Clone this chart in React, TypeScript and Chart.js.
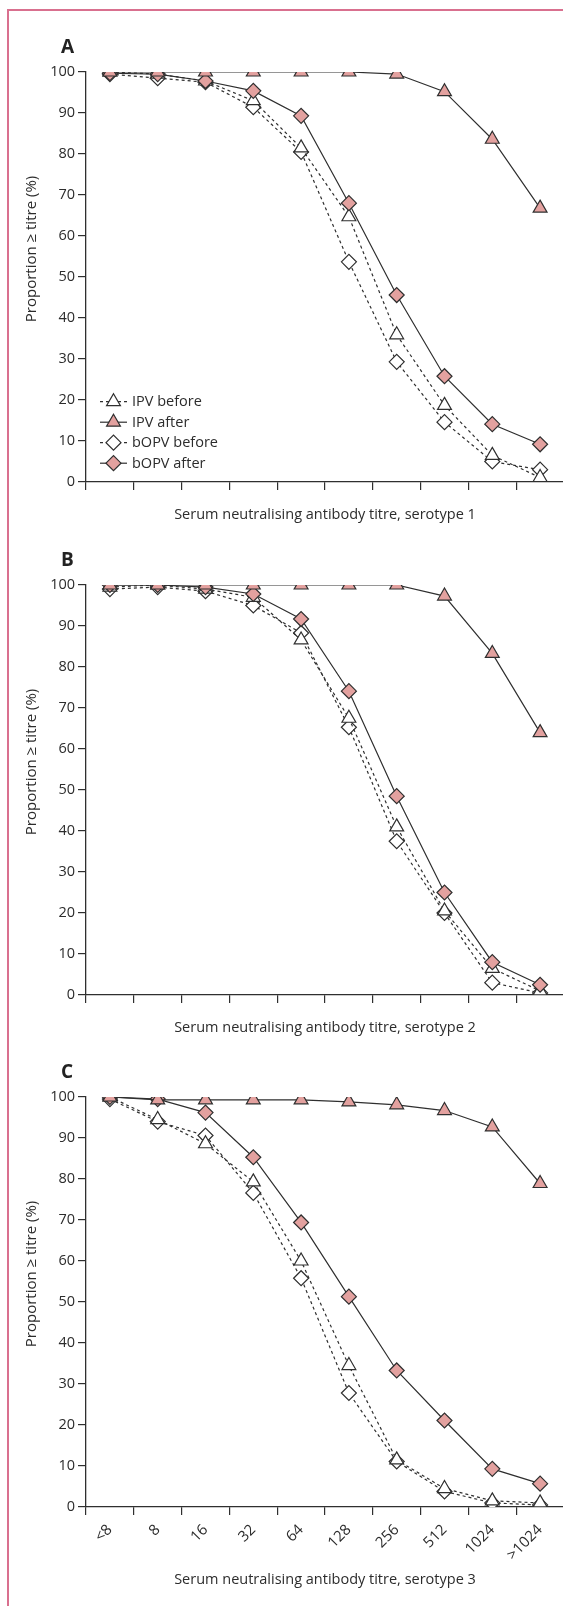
import React, { useEffect, useRef } from 'react';
import { Chart, registerables } from 'chart.js';

Chart.register(...registerables);

// ---------- data ----------
const categories = ['<8', '8', '16', '32', '64', '128', '256', '512', '1024', '>1024'];
const seriesNames = ['IPV before', 'IPV after', 'bOPV before', 'bOPV after'];

// Panel A – serotype 1
const ipvBeforeA = [100, 99.5, 97.8, 93, 81.5, 64.7, 35.9, 18.7, 6.5, 1.1];
const ipvAfterA = [100, 100, 100, 100, 100, 100, 99.5, 95.2, 83.6, 66.8];
const bopvBeforeA = [99.5, 98.5, 97.5, 91.4, 80.5, 53.7, 29.3, 14.6, 5, 3];
const bopvAfterA = [99.7, 99.5, 97.8, 95.4, 89.3, 68, 45.6, 25.8, 14.1, 9.2];

// Panel B – serotype 2
const ipvBeforeB = [99.5, 100, 99, 97, 86.6, 67.5, 41, 20.5, 6.5, 1];
const ipvAfterB = [100, 100, 100, 100, 100, 100, 100, 97.3, 83.3, 64];
const bopvBeforeB = [99, 99.5, 98.5, 95, 88.3, 65.3, 37.5, 20, 3, 0.5];
const bopvAfterB = [100, 100, 99.5, 97.8, 91.7, 74.1, 48.5, 25, 8, 2.5];

// Panel C – serotype 3
const ipvBeforeC = [100, 94.5, 88.6, 79.3, 60, 34.5, 11.5, 4.5, 1.5, 1];
const ipvAfterC = [100, 99.3, 99.3, 99.3, 99.3, 98.8, 98.1, 96.7, 92.7, 78.9];
const bopvBeforeC = [99.5, 94, 90.6, 76.6, 55.8, 27.8, 11.1, 3.8, 1, 0.5];
const bopvAfterC = [100, 99.5, 96.2, 85.3, 69.4, 51.3, 33.3, 21.1, 9.3, 5.7];

const yMin = 0;
const yMax = 100;
const yStep = 10;

const panelLetters = ['A', 'B', 'C'];
const xTitles = [
  'Serum neutralising antibody titre, serotype 1',
  'Serum neutralising antibody titre, serotype 2',
  'Serum neutralising antibody titre, serotype 3',
];
const yTitle = 'Proportion \u2265 titre (%)';

// ---------- styles ----------
const FONT = '"Open Sans", "Noto Sans", "DejaVu Sans", sans-serif';
const INK = '#2f2f2f';
const TEXT = '#2c2c2c';
const PINK = '#e3a19f';
const BORDER_PINK = '#d9708f';

const CANVAS_W = 600;
const PLOT_TOP = 72;
const PLOT_BOTTOM = 482;
const PLOT_LEFT = 86;
const PLOT_RIGHT = 564;

type PanelSpec = {
  idx: number;
  top: number;
  height: number;
  series: number[][];
  showTickLabels: boolean;
  legend: boolean;
  titlePadBottom: number;
};

const panels: PanelSpec[] = [
  { idx: 0, top: 0, height: 530, series: [ipvBeforeA, ipvAfterA, bopvBeforeA, bopvAfterA], showTickLabels: false, legend: true, titlePadBottom: 6 },
  { idx: 1, top: 513, height: 530, series: [ipvBeforeB, ipvAfterB, bopvBeforeB, bopvAfterB], showTickLabels: false, legend: false, titlePadBottom: 6 },
  { idx: 2, top: 1025, height: 581, series: [ipvBeforeC, ipvAfterC, bopvBeforeC, bopvAfterC], showTickLabels: true, legend: false, titlePadBottom: 17 },
];

const seriesStyles = [
  { dash: [3, 3], point: 'triangle', fill: '#ffffff', radius: 8, order: 3 },
  { dash: [], point: 'triangle', fill: PINK, radius: 8, order: 1 },
  { dash: [3, 3], point: 'rectRot', fill: '#ffffff', radius: 7.5, order: 4 },
  { dash: [], point: 'rectRot', fill: PINK, radius: 7.5, order: 2 },
];

function drawMarker(ctx: CanvasRenderingContext2D, style: string, x: number, y: number, r: number, fill: string) {
  ctx.beginPath();
  if (style === 'triangle') {
    let rad = 0;
    ctx.moveTo(x + Math.sin(rad) * r, y - Math.cos(rad) * r);
    rad += (2 * Math.PI) / 3;
    ctx.lineTo(x + Math.sin(rad) * r, y - Math.cos(rad) * r);
    rad += (2 * Math.PI) / 3;
    ctx.lineTo(x + Math.sin(rad) * r, y - Math.cos(rad) * r);
  } else {
    ctx.moveTo(x - r, y);
    ctx.lineTo(x, y - r);
    ctx.lineTo(x + r, y);
    ctx.lineTo(x, y + r);
  }
  ctx.closePath();
  ctx.fillStyle = fill;
  ctx.fill();
  ctx.lineWidth = 1.2;
  ctx.strokeStyle = INK;
  ctx.stroke();
}

const decorPlugin = {
  id: 'decor',
  afterDraw(chart: any, _args: any, opts: any) {
    const { ctx, chartArea } = chart;
    ctx.save();
    // panel letter
    ctx.fillStyle = '#222';
    ctx.font = `bold 19px ${FONT}`;
    ctx.textAlign = 'left';
    ctx.textBaseline = 'alphabetic';
    ctx.fillText(opts.letter, 61, 52.5);
    // y title
    ctx.translate(opts.yTitleX, (chartArea.top + chartArea.bottom) / 2 + opts.yTitleDy);
    ctx.rotate(-Math.PI / 2);
    ctx.textAlign = 'center';
    ctx.textBaseline = 'middle';
    ctx.fillStyle = TEXT;
    ctx.font = `15px ${FONT}`;
    ctx.fillText(opts.yTitle, 0, 0);
    ctx.restore();
  },
};

const insetLegendPlugin = {
  id: 'insetLegend',
  afterDatasetsDraw(chart: any, _args: any, opts: any) {
    if (!opts || !opts.display) return;
    const ctx = chart.ctx;
    chart.data.datasets.forEach((ds: any, i: number) => {
      const y = opts.y0 + i * opts.dy;
      ctx.save();
      ctx.strokeStyle = INK;
      ctx.lineWidth = ds.borderWidth;
      ctx.setLineDash(ds.borderDash || []);
      ctx.beginPath();
      ctx.moveTo(opts.x0, y);
      ctx.lineTo(opts.x1, y);
      ctx.stroke();
      ctx.setLineDash([]);
      drawMarker(ctx, ds.pointStyle, (opts.x0 + opts.x1) / 2, y, ds.pointRadius, ds.pointBackgroundColor);
      ctx.fillStyle = TEXT;
      ctx.font = `14.5px ${FONT}`;
      ctx.textAlign = 'left';
      ctx.textBaseline = 'middle';
      ctx.fillText(ds.label, opts.textX, y + 0.5);
      ctx.restore();
    });
  },
};

function buildConfig(p: PanelSpec): any {
  const datasets = p.series.map((values, i) => {
    const s = seriesStyles[i];
    return {
      label: seriesNames[i],
      data: values,
      borderColor: INK,
      borderWidth: 1.2,
      borderDash: s.dash,
      pointStyle: s.point,
      pointRadius: s.radius,
      pointHoverRadius: s.radius,
      pointBackgroundColor: s.fill,
      pointBorderColor: INK,
      pointBorderWidth: 1.2,
      fill: false,
      tension: 0,
      order: s.order,
    };
  });
  return {
    type: 'line',
    data: { labels: categories, datasets },
    options: {
      responsive: false,
      animation: false,
      events: [],
      layout: { padding: { top: PLOT_TOP, right: CANVAS_W - PLOT_RIGHT, bottom: 0, left: 0 } },
      plugins: {
        legend: { display: false },
        tooltip: { enabled: false },
        decor: { letter: panelLetters[p.idx], yTitle, yTitleX: 32, yTitleDy: -28 },
        insetLegend: { display: p.legend, x0: 100, x1: 127, textX: 132, y0: 401.7, dy: 20.5 },
      },
      scales: {
        x: {
          type: 'category',
          offset: true,
          grid: { offset: true, drawOnChartArea: false, drawTicks: true, tickLength: 8, color: INK, lineWidth: 1.2 },
          border: { display: true, color: INK, width: 1.3 },
          ticks: {
            display: p.showTickLabels,
            autoSkip: false,
            minRotation: 45,
            maxRotation: 45,
            padding: 6,
            color: TEXT,
            font: { family: FONT, size: 15 },
          },
          title: {
            display: true,
            text: xTitles[p.idx],
            color: TEXT,
            font: { family: FONT, size: 14.5 },
            padding: { top: 0, bottom: p.titlePadBottom },
          },
          afterFit: (scale: any) => {
            scale.height = p.height - PLOT_BOTTOM;
          },
        },
        y: {
          type: 'linear',
          min: yMin,
          max: yMax,
          grid: { drawOnChartArea: false, drawTicks: true, tickLength: 8, color: INK, lineWidth: 1.2 },
          border: { display: true, color: INK, width: 1.3 },
          ticks: {
            stepSize: yStep,
            padding: 3,
            color: TEXT,
            font: { family: FONT, size: 14.5 },
          },
          afterFit: (scale: any) => {
            scale.width = PLOT_LEFT;
          },
        },
      },
    },
    plugins: [decorPlugin, insetLegendPlugin],
  };
}

function PanelChart({ spec }: { spec: PanelSpec }) {
  const ref = useRef<HTMLCanvasElement | null>(null);
  useEffect(() => {
    if (!ref.current) return;
    const chart = new Chart(ref.current, buildConfig(spec));
    return () => chart.destroy();
  }, [spec]);
  return (
    <canvas
      ref={ref}
      width={CANVAS_W}
      height={spec.height}
      style={{ position: 'absolute', left: 0, top: spec.top, width: CANVAS_W, height: spec.height }}
    />
  );
}

export default function App() {
  return (
    <div
      style={{
        position: 'relative',
        width: 563,
        height: 1606,
        overflow: 'hidden',
        background: '#ffffff',
        fontFamily: FONT,
      }}
    >
      <style>{'html,body{margin:0;padding:0;overflow:hidden;background:#fff;}'}</style>
      <div
        style={{
          position: 'absolute',
          left: 7,
          top: 9,
          width: 700,
          height: 1700,
          borderLeft: `2px solid ${BORDER_PINK}`,
          borderTop: `2px solid ${BORDER_PINK}`,
          boxSizing: 'border-box',
        }}
      />
      {panels.map((p) => (
        <PanelChart key={p.idx} spec={p} />
      ))}
    </div>
  );
}
